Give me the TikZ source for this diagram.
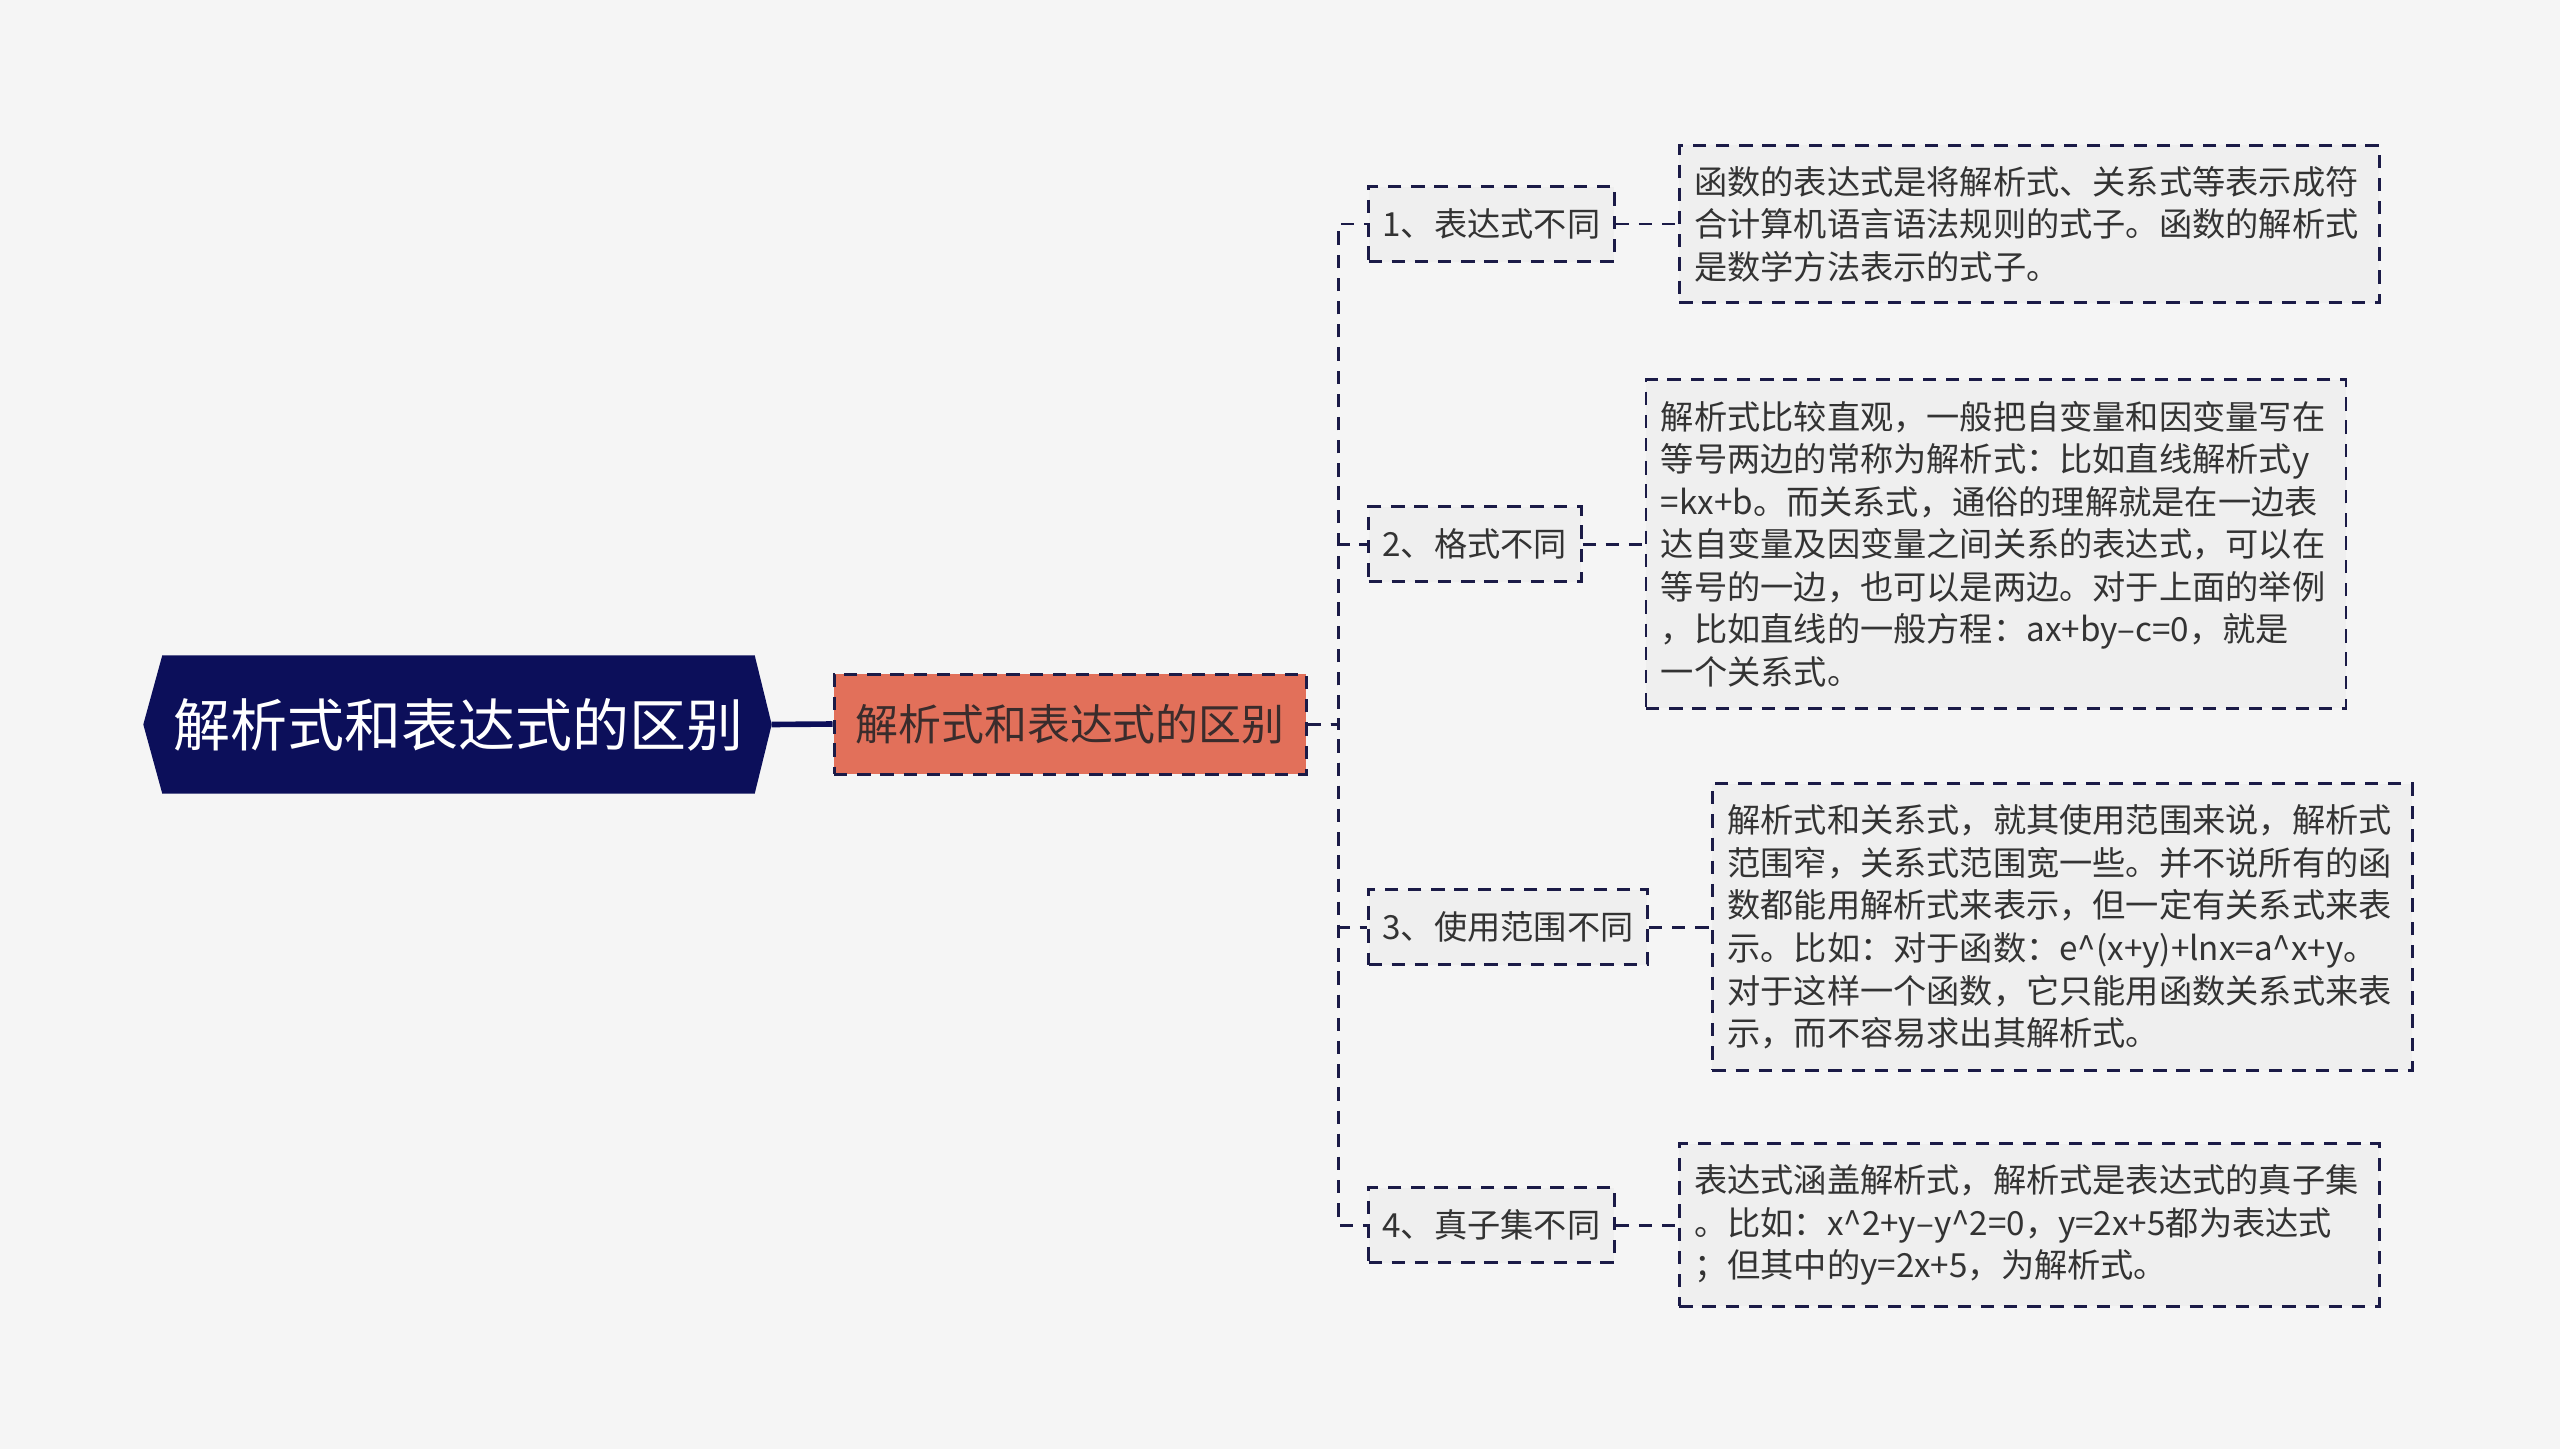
\documentclass[tikz,border=0pt]{standalone}
\usepackage{fontspec}
\setmainfont{Noto Sans CJK SC}
\usetikzlibrary{positioning, calc, backgrounds}
\definecolor{rootnavy}{HTML}{0C0F5A}
\definecolor{midsalmon}{HTML}{E2705A}
\definecolor{dashnavy}{HTML}{1B1B47}
\definecolor{boxgrey}{HTML}{EFEFEF}
\definecolor{pagegrey}{HTML}{F5F5F5}
\definecolor{textdark}{HTML}{333333}
\definecolor{midtext}{HTML}{3A2C2C}
\tikzset{
  rootbox/.style={rectangle, minimum width=5.91cm, minimum height=1.37cm,
                  inner sep=0pt, text=white, font=\fontsize{16.2}{20}\selectfont},
  midbox/.style={rectangle, draw=dashnavy, fill=midsalmon, line width=0.85pt,
                 dash pattern=on 3.8pt off 2.8pt, minimum width=4.72cm, minimum height=1.0cm,
                 text=midtext, font=\fontsize{12.2}{15}\selectfont},
  branchbox/.style={rectangle, draw=dashnavy, fill=boxgrey, line width=0.85pt,
                    dash pattern=on 3.8pt off 2.8pt, minimum height=0.75cm, inner xsep=1.4mm,
                    text=textdark, font=\fontsize{9.45}{12.1}\selectfont},
  leafbox/.style={rectangle, draw=dashnavy, fill=boxgrey, line width=0.85pt,
                  dash pattern=on 3.8pt off 2.8pt, text width=6.7cm, inner xsep=0.15cm,
                  inner ysep=2.1mm, align=left, text=textdark,
                  font=\fontsize{9.45}{12.1}\selectfont},
  link/.style={draw=dashnavy, line width=0.85pt, dash pattern=on 3.8pt off 2.8pt},
  rootlink/.style={draw=rootnavy, line width=1.6pt},
}
\begin{document}
\begin{tikzpicture}[x=1cm, y=1cm]
  % --- Root and middle ---
  \node[rootbox] (root) at (4.585, -7.245) {解析式和表达式的区别};
  \node[midbox]  (mid)  at (10.70, -7.24) {解析式和表达式的区别};

  % --- Branches ---
  \node[branchbox, anchor=west] (b1) at (13.67, -2.24)  {1、表达式不同};
  \node[branchbox, anchor=west] (b2) at (13.67, -5.44)  {2、格式不同};
  \node[branchbox, anchor=west] (b3) at (13.67, -9.27)  {3、使用范围不同};
  \node[branchbox, anchor=west] (b4) at (13.67, -12.25) {4、真子集不同};

  % --- Leaves ---
  \node[leafbox, right=0.62cm of b1] (l1) {
    函数的表达式是将解析式、关系式等表示成符\\
    合计算机语言语法规则的式子。函数的解析式\\
    是数学方法表示的式子。};
  \node[leafbox, right=0.62cm of b2] (l2) {
    解析式比较直观，一般把自变量和因变量写在\\
    等号两边的常称为解析式：比如直线解析式y\\
    =kx+b。而关系式，通俗的理解就是在一边表\\
    达自变量及因变量之间关系的表达式，可以在\\
    等号的一边，也可以是两边。对于上面的举例\\
    ，比如直线的一般方程：ax+by–c=0，就是\\
    一个关系式。};
  \node[leafbox, right=0.62cm of b3] (l3) {
    解析式和关系式，就其使用范围来说，解析式\\
    范围窄，关系式范围宽一些。并不说所有的函\\
    数都能用解析式来表示，但一定有关系式来表\\
    示。比如：对于函数：e\textasciicircum(x+y)+lnx=a\textasciicircum x+y。\\
    对于这样一个函数，它只能用函数关系式来表\\
    示，而不容易求出其解析式。};
  \node[leafbox, right=0.62cm of b4] (l4) {
    表达式涵盖解析式，解析式是表达式的真子集\\
    。比如：x\textasciicircum 2+y–y\textasciicircum 2=0，y=2x+5都为表达式\\
    ；但其中的y=2x+5，为解析式。};

  % --- Background and root shape ---
  \begin{scope}[on background layer]
    \fill[pagegrey] (0, 0) rectangle (25.6, -14.49);
    \fill[rootnavy] ($(root.west)+(-0.19,0)$) -- (root.north west) -- (root.north east)
      -- ($(root.east)+(0.17,0)$) -- (root.south east) -- (root.south west) -- cycle;
  \end{scope}

  % --- Connectors ---
  \draw[rootlink] ($(root.east)+(0.17,0)$) -- (mid.west);
  \foreach \b in {b1, b2, b3, b4}
    \draw[link] (mid.east) -- ++(0.31,0) |- (\b.west);
  \draw[link] (b1.east) -- (l1.west);
  \draw[link] (b2.east) -- (l2.west);
  \draw[link] (b3.east) -- (l3.west);
  \draw[link] (b4.east) -- (l4.west);

\end{tikzpicture}
\end{document}
